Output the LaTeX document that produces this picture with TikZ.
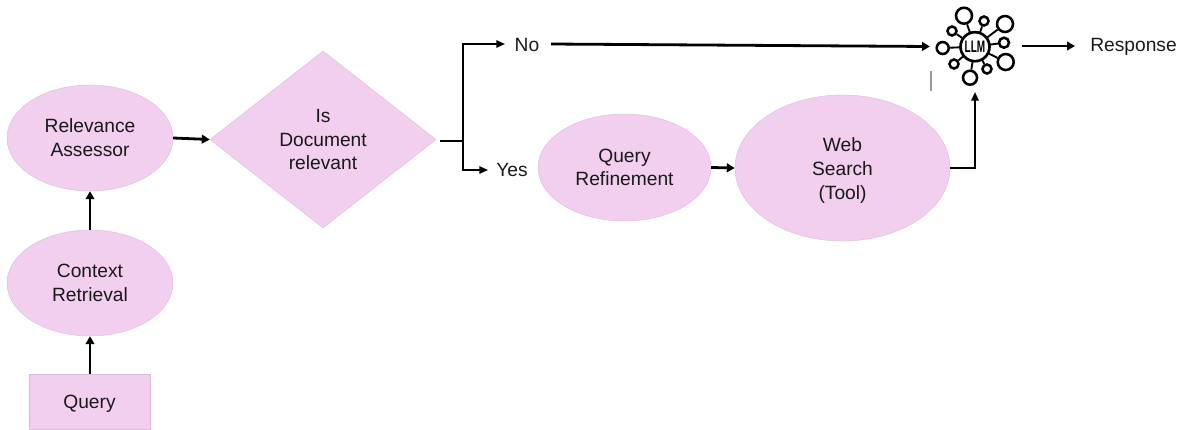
\documentclass[tikz,border=0pt]{standalone}
\usepackage{fontspec}
\setmainfont{Liberation Sans}
\newfontfamily\llmfont[FakeStretch=0.6]{Liberation Sans}
\usetikzlibrary{shapes.geometric,arrows.meta,calc}
\definecolor{pinkfill}{HTML}{F2CEEF}
\definecolor{pinkedge}{HTML}{D8BDD5}
\tikzset{
  txt/.style={font=\fontsize{14.4pt}{17.8pt}\selectfont,align=center,text=black!90,inner sep=0pt},
  oval/.style={ellipse,fill=pinkfill,draw=pinkedge,line width=0.3pt,inner sep=0pt,txt},
  decide/.style={diamond,fill=pinkfill,draw=pinkedge,line width=0.3pt,inner sep=0pt,txt},
  boxq/.style={rectangle,fill=pinkfill,draw=pinkedge,line width=0.3pt,inner sep=0pt,txt},
  thickarrow/.style={line width=2.1pt,-{Triangle[length=6pt,width=6.5pt]}},
  thinarrow/.style={line width=1.3pt,-{Triangle[length=6.5pt,width=5.5pt]}},
  hub/.style={circle,draw=black,line width=1.9pt,fill=white,inner sep=0pt},
  spoke/.style={line width=1.4pt,draw=black},
}
\newcommand{\sat}[4]{% name, x, y, diameter(px)
  \node[hub,minimum size=#4*0.75pt] (#1) at (#2,#3) {};
  \draw[spoke] (llm) -- (#1);
}
\begin{document}
\begin{tikzpicture}[x=0.75pt,y=-0.75pt]
\useasboundingbox (0,0) rectangle (1184,429);
% main shapes
\node[boxq,minimum width=121*0.75pt,minimum height=55*0.75pt,text depth=0pt] (query) at (89.5,401.5) {Query};
\node[oval,minimum width=166*0.75pt,minimum height=106*0.75pt] (context) at (90,283) {Context\\Retrieval};
\node[oval,minimum width=166*0.75pt,minimum height=106*0.75pt] (relevance) at (90,138) {Relevance\\Assessor};
\node[decide,minimum width=226*0.75pt,minimum height=177*0.75pt] (decision) at (323,139.5) {Is\\Document\\relevant};
\node[oval,minimum width=173*0.75pt,minimum height=107*0.75pt] (refine) at (624.5,167.5) {Query\\Refinement};
\node[oval,minimum width=215*0.75pt,minimum height=146*0.75pt] (web) at (842.5,168) {\rule{0pt}{14pt}Web\\Search\\(Tool)};
\node[txt] (no) at (527,45) {No};
\node[txt] (yes) at (512,170) {Yes};
\node[txt] (response) at (1133.5,46.5) {Response};
% LLM icon
\coordinate (llm) at (975,46.7);
\sat{s1}{964}{15.7}{16}
\sat{s2}{984}{21}{9}
\sat{s3}{1005}{24}{16}
\sat{s4}{1004}{42.7}{10}
\sat{s5}{1005.7}{62}{16}
\sat{s6}{987}{69}{9}
\sat{s7}{970}{77.7}{14}
\sat{s8}{954}{64}{9}
\sat{s9}{942.7}{48}{12}
\sat{s10}{952}{31}{9}
\node[circle,draw=black,line width=2pt,fill=white,minimum size=29*0.75pt,inner sep=0pt] (llmhub) at (llm) {};
\node[inner sep=0pt,font=\llmfont\fontsize{12.5pt}{13pt}\selectfont\bfseries] (llmtext) at (llm) {LLM};
\coordinate (mark1) at (931,71);
\coordinate (mark2) at (931,91);
\draw[line width=0.8pt,black!40] (mark1) -- (mark2);
% connector anchors
\coordinate (j) at (463,141);
\coordinate (dout) at ($(decision.east)+(4,1.5)$);
\coordinate (nobar) at (505,44);
\coordinate (yesbar) at (488,170);
\coordinate (llmin) at (930,46.5);
\coordinate (llmout) at (1022,46);
\coordinate (respin) at (1075,46);
\coordinate (noout) at (551,44);
\coordinate (llmbelow) at (975,92);
\coordinate (webcorner) at (975,168);
% connectors
\draw[thickarrow] (query.north -| context.south) -- (context.south);
\draw[thickarrow] (context.north) -- (relevance.south);
\draw[thickarrow] (relevance.east) -- (decision.west);
\draw[line width=1.3pt] (dout) -- (j);
\draw[thinarrow] (j) |- (nobar);
\draw[thinarrow] (j) |- (yesbar);
\draw[thickarrow] (noout) -- (llmin);
\draw[thickarrow] (refine.east) -- (web.west);
\draw[thinarrow] (web.east) -- (webcorner) -- (llmbelow);
\draw[thickarrow] (llmout) -- (respin);
\end{tikzpicture}
\end{document}
